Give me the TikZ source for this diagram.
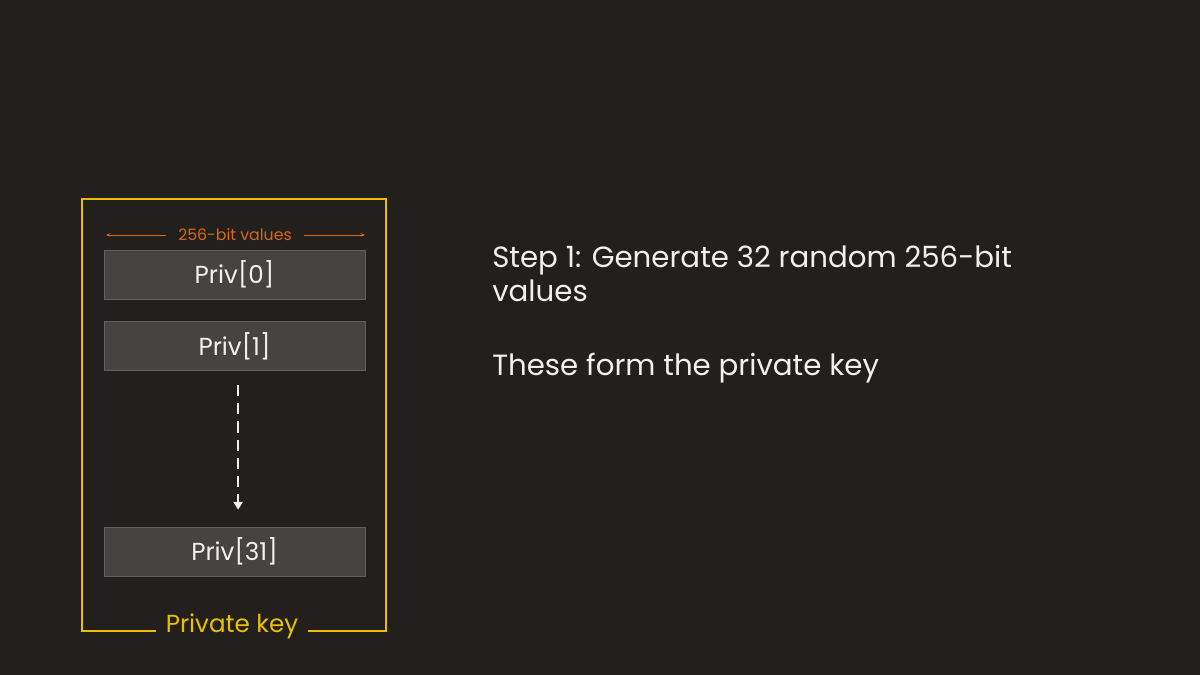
\documentclass[tikz,border=0pt]{standalone}
\usepackage{fontspec}
\setmainfont{Poppins}
\usetikzlibrary{arrows.meta,positioning}

\definecolor{bg}{RGB}{34,31,28}
\definecolor{keygold}{RGB}{232,192,0}
\definecolor{dimorange}{RGB}{214,104,24}
\definecolor{cellgray}{RGB}{69,68,64}
\definecolor{inkwhite}{RGB}{240,240,238}

\begin{document}
\begin{tikzpicture}[x=0.025cm, y=-0.025cm]
  % Styles
  \tikzstyle{cell}=[rectangle, fill=cellgray, draw=cellgray!85!white, line width=0.4pt, minimum width=6.525cm, minimum height=1.225cm, inner sep=0pt, text=inkwhite, font=\fontsize{17.5}{21}\selectfont]
  \tikzstyle{keyframe}=[rectangle, draw=keygold, line width=1pt, minimum width=7.6cm, minimum height=10.8cm, inner sep=0pt]
  \tikzstyle{keylabel}=[fill=bg, text=keygold, inner xsep=0.25cm, inner ysep=2pt, font=\fontsize{17.5}{20}\selectfont]
  \tikzstyle{dimlabel}=[text=dimorange, inner xsep=0.3cm, inner ysep=0pt, font=\fontsize{11.2}{13}\selectfont]
  \tikzstyle{dimline}=[-{Stealth[length=3pt,width=2.5pt]}, dimorange, line width=0.6pt]
  \tikzstyle{flow}=[-{Triangle[length=5.5pt,width=6.5pt]}, inkwhite, line width=1.2pt, dash pattern=on 8pt off 5pt]
  \tikzstyle{note}=[anchor=base west, inner sep=0pt, text=inkwhite, align=left, font=\fontsize{20.8}{24}\selectfont]

  % Background
  \fill[bg] (0,0) rectangle (1200,675);
  \useasboundingbox (0,0) rectangle (1200,675);

  % Private key frame
  \node[keyframe] (key) at (234,415) {};
  \node[keylabel] (keyname) at (232,626) {Private key};

  % Width marker
  \node[dimlabel] (width) at (235,235) {256-bit values};
  \coordinate (wl) at (106,235);
  \coordinate (wr) at (365,235);
  \draw[dimline] (width.west) -- (wl);
  \draw[dimline] (width.east) -- (wr);

  % Values
  \node[cell] (p0) at (234.5,274.5) {Priv[0]};
  \node[cell] (p1) at (234.5,346) {Priv[1]};
  \node[cell] (p31) at (234.5,551.5) {Priv[31]};

  % Remaining values
  \draw[flow, shorten <=0.35cm, shorten >=0.425cm] ([xshift=0.09cm]p1.south) -- ([xshift=0.09cm]p31.north);

  % Explanation
  \node[note] (step) at (492,301) {Step 1: Generate 32 random 256-bit\\values};
  \node[note] (form) at (492,375) {These form the private key};
\end{tikzpicture}
\end{document}
